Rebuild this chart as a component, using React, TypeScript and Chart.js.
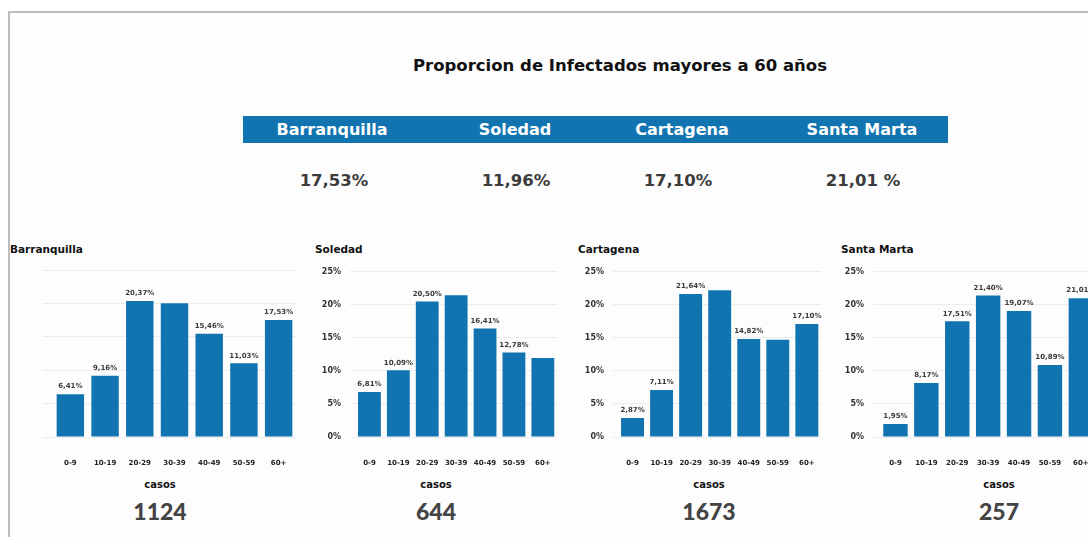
import React, { useEffect, useRef } from "react";
import { Chart, registerables } from "chart.js";

Chart.register(...registerables);

const AGE_GROUPS = ["0-9", "10-19", "20-29", "30-39", "40-49", "50-59", "60+"];
const CITIES = ["Barranquilla", "Soledad", "Cartagena", "Santa Marta"];
const SHARE_OVER_60 = ["17,53%", "11,96%", "17,10%", "21,01 %"];
const CASES = ["1124", "644", "1673", "257"];
const Y_MAX = 25;
const Y_STEP = 5;

const BARRANQUILLA = [6.41, 9.16, 20.37, 20.04, 15.46, 11.03, 17.53];
const SOLEDAD = [6.81, 10.09, 20.5, 21.45, 16.41, 12.78, 11.96];
const CARTAGENA = [2.87, 7.11, 21.64, 22.2, 14.82, 14.7, 17.1];
const SANTA_MARTA = [1.95, 8.17, 17.51, 21.4, 19.07, 10.89, 21.01];

// which bars show a value label in the original (the others are hidden)
const BARRANQUILLA_LABELED = [true, true, true, false, true, true, true];
const SOLEDAD_LABELED = [true, true, true, false, true, true, false];
const CARTAGENA_LABELED = [true, true, true, false, true, false, true];
const SANTA_MARTA_LABELED = [true, true, true, true, true, true, true];

const SERIES = [BARRANQUILLA, SOLEDAD, CARTAGENA, SANTA_MARTA];
const LABELED = [BARRANQUILLA_LABELED, SOLEDAD_LABELED, CARTAGENA_LABELED, SANTA_MARTA_LABELED];

const BLUE = "#1174B0";
const HEAVY = "'DejaVu Sans', Verdana, sans-serif";
const NUM = "Lato, 'Open Sans', sans-serif";

const fmt = (v: number) => v.toFixed(2).replace(".", ",") + "%";

type PanelLayout = {
  left: number;
  width: number;
  yWidth: number;
  padRight: number;
  tickLength: number;
  showY: boolean;
};

const PANELS: PanelLayout[] = [
  { left: 20, width: 282, yWidth: 33, padRight: 6, tickLength: 10, showY: false },
  { left: 312, width: 253, yWidth: 43, padRight: 5, tickLength: 5, showY: true },
  { left: 575, width: 254, yWidth: 43, padRight: 5, tickLength: 5, showY: true },
  { left: 835, width: 268, yWidth: 45, padRight: 5, tickLength: 7, showY: true },
];
const CANVAS_TOP = 258;
const CANVAS_H = 214;

const valueLabels = {
  id: "valueLabels",
  afterDatasetsDraw(chart: any) {
    const flags: boolean[] = chart.options.plugins.valueLabels.flags;
    const ctx = chart.ctx;
    const meta = chart.getDatasetMeta(0);
    const data = chart.data.datasets[0].data as number[];
    ctx.save();
    ctx.font = `bold 7px ${HEAVY}`;
    ctx.fillStyle = "#3a3a3a";
    ctx.textAlign = "center";
    ctx.textBaseline = "bottom";
    meta.data.forEach((el: any, i: number) => {
      if (!flags[i]) return;
      ctx.fillText(fmt(data[i]), el.x, el.y - 4);
    });
    ctx.restore();
  },
};

function BarPanel({ idx }: { idx: number }) {
  const ref = useRef<HTMLCanvasElement>(null);
  const p = PANELS[idx];
  useEffect(() => {
    if (!ref.current) return;
    const chart = new Chart(ref.current, {
      type: "bar",
      data: {
        labels: AGE_GROUPS,
        datasets: [
          {
            data: SERIES[idx],
            backgroundColor: BLUE,
            barPercentage: 0.79,
            categoryPercentage: 1,
          },
        ],
      },
      options: {
        animation: false,
        responsive: false,
        maintainAspectRatio: false,
        layout: { padding: { top: 12, right: p.padRight, left: 0, bottom: 0 } },
        plugins: {
          legend: { display: false },
          tooltip: { enabled: false },
          title: { display: false },
          valueLabels: { flags: LABELED[idx] },
        } as any,
        scales: {
          x: {
            grid: { display: false },
            border: { display: false },
            ticks: {
              font: { family: HEAVY, size: 7, weight: "bold" },
              color: "#222",
              padding: 14,
              maxRotation: 0,
              autoSkip: false,
            },
            afterFit: (s: any) => {
              s.height = 35;
            },
          },
          y: {
            min: 0,
            max: Y_MAX,
            ticks: {
              stepSize: Y_STEP,
              display: p.showY,
              callback: (v: any) => v + "%",
              font: { family: HEAVY, size: 8, weight: "bold" },
              color: "#333",
              padding: 9,
            },
            grid: { color: "#ececec", lineWidth: 1, tickLength: p.tickLength },
            border: { display: false },
            afterFit: (s: any) => {
              s.width = p.yWidth;
            },
          },
        },
      } as any,
      plugins: [valueLabels],
    });
    return () => chart.destroy();
  }, [idx]);
  return (
    <canvas
      ref={ref}
      width={p.width}
      height={CANVAS_H}
      style={{ position: "absolute", left: p.left, top: CANVAS_TOP, width: p.width, height: CANVAS_H }}
    />
  );
}

const centered = (x: number, y: number, family: string): React.CSSProperties => ({
  position: "absolute",
  left: x,
  top: y,
  transform: "translate(-50%, -50%)",
  whiteSpace: "nowrap",
  fontFamily: family,
  lineHeight: 1,
});

const HEADER_X = [332, 515, 682, 862];
const SHARE_X = [334, 516, 678, 863];
const TITLE_X = [10, 315, 578, 841];
const CASES_X = [160, 436, 709, 999];

export default function App() {
  return (
    <div
      style={{
        position: "fixed",
        left: 0,
        top: 0,
        width: 1088,
        height: 537,
        overflow: "hidden",
        background: "#ffffff",
      }}
    >
      <div
        style={{
          position: "absolute",
          left: 8,
          top: 11,
          width: 1200,
          height: 700,
          borderLeft: "2px solid #bdbdbd",
          borderTop: "2px solid #bdbdbd",
          background: "#fdfdfd",
        }}
      />
      <div style={{ ...centered(620, 66, HEAVY), fontSize: 16.5, fontWeight: 700, color: "#111" }}>
        Proporcion de Infectados mayores a 60 años
      </div>
      <div
        style={{ position: "absolute", left: 243, top: 116, width: 705, height: 27, background: BLUE }}
      />
      {CITIES.map((c, i) => (
        <div key={"h" + c} style={{ ...centered(HEADER_X[i], 130, HEAVY), fontSize: 16, fontWeight: 700, color: "#fff" }}>
          {c}
        </div>
      ))}
      {SHARE_OVER_60.map((s, i) => (
        <div key={"s" + i} style={{ ...centered(SHARE_X[i], 181, HEAVY), fontSize: 16.5, fontWeight: 700, color: "#3c3c3c" }}>
          {s}
        </div>
      ))}
      {CITIES.map((c, i) => (
        <div
          key={"t" + c}
          style={{
            position: "absolute",
            left: TITLE_X[i],
            top: 244,
            fontSize: 10.5,
            fontWeight: 700,
            color: "#111",
            fontFamily: HEAVY,
            whiteSpace: "nowrap",
            lineHeight: 1,
          }}
        >
          {c}
        </div>
      ))}
      {PANELS.map((_, i) => (
        <BarPanel key={"p" + i} idx={i} />
      ))}
      {CASES.map((n, i) => (
        <React.Fragment key={"c" + i}>
          <div style={{ ...centered(CASES_X[i], 485, HEAVY), fontSize: 10, fontWeight: 700, color: "#111" }}>
            casos
          </div>
          <div style={{ ...centered(CASES_X[i], 511, NUM), fontSize: 23, fontWeight: 900, color: "#444" }}>{n}</div>
        </React.Fragment>
      ))}
    </div>
  );
}
